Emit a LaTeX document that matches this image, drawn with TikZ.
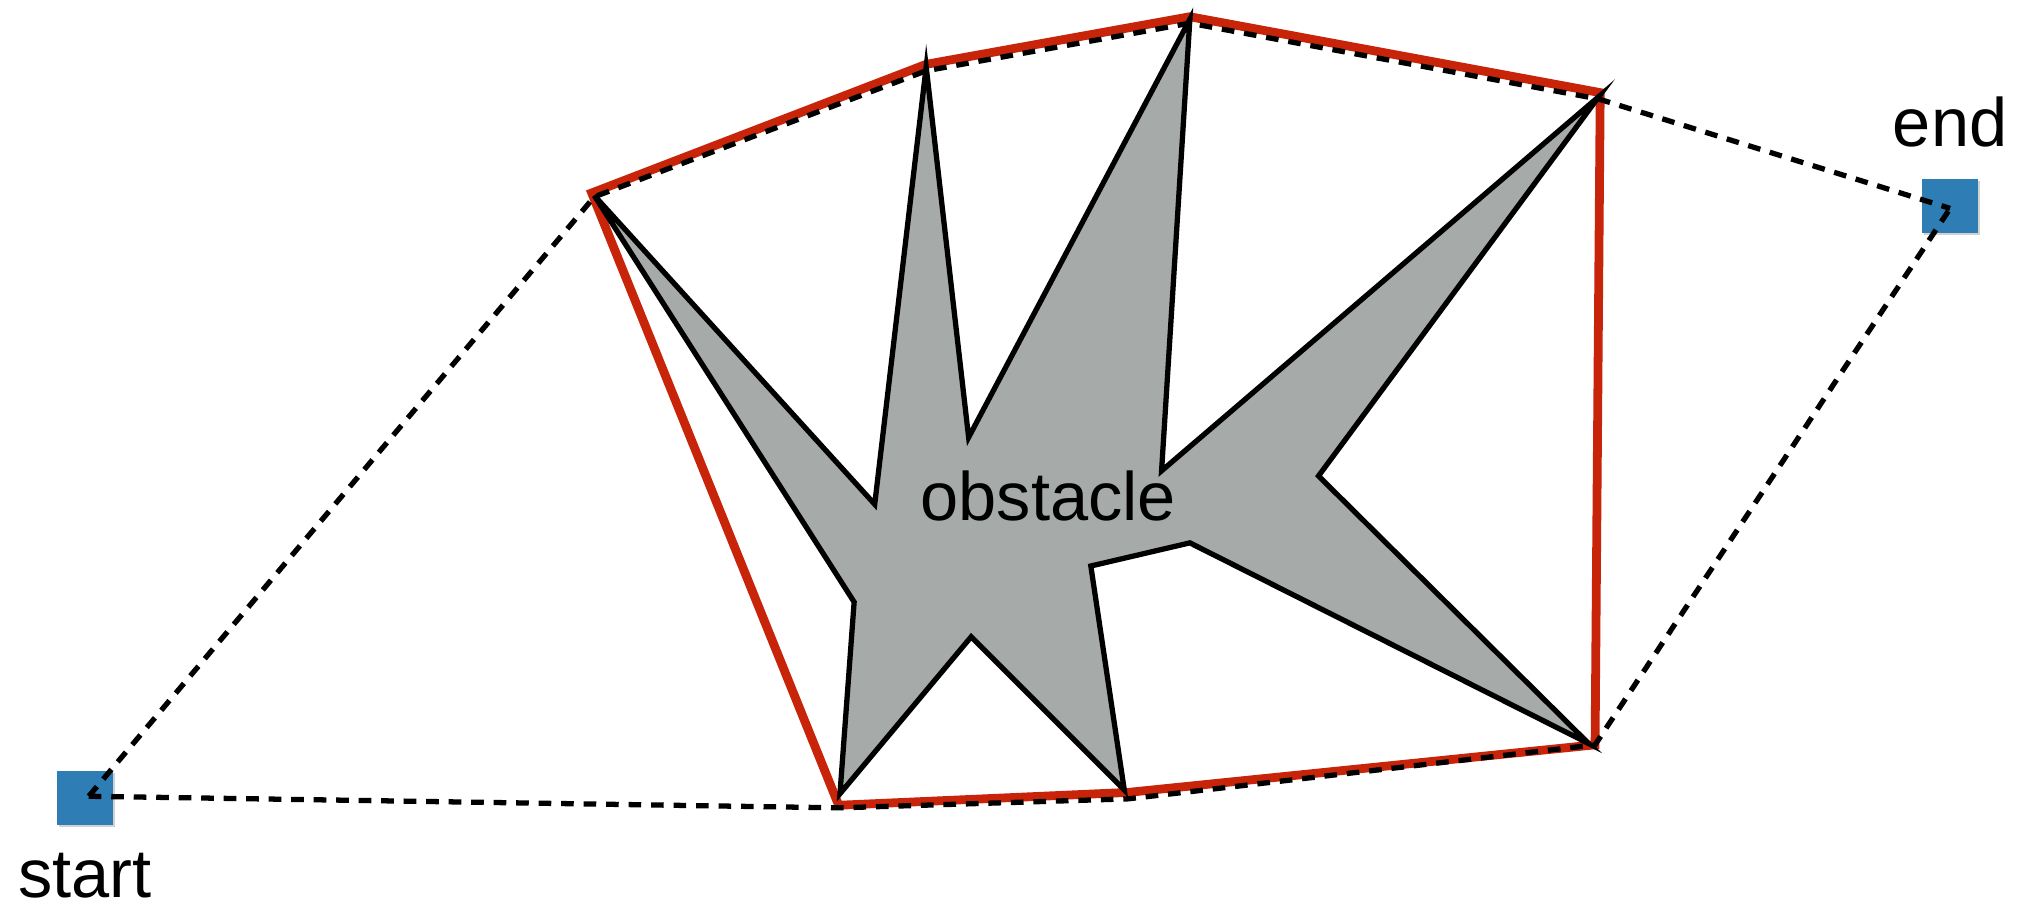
\documentclass[tikz,border=0pt]{standalone}
\usepackage{fontspec}
\setmainfont{Liberation Sans}
\definecolor{obsgray}{RGB}{166,170,168}
\definecolor{hullred}{RGB}{200,36,10}
\definecolor{sqblue}{RGB}{46,125,181}
\tikzset{
  obstacle/.style={draw=black, fill=obsgray, line width=1.5pt, line join=miter},
  hull/.style={draw=hullred, line width=2.5pt, line join=miter},
  dashpath/.style={draw=black, line width=1.5pt, dash pattern=on 3.6pt off 2.8pt},
  endpoint/.style={fill=sqblue, minimum width=0.56cm, minimum height=0.54cm, inner sep=0pt, outer sep=0pt},
  sqshadow/.style={fill=black!18, minimum width=0.56cm, minimum height=0.54cm, inner sep=0pt, outer sep=0pt},
  lbl/.style={font=\fontsize{19.5}{22}\selectfont, inner sep=0pt}
}
\begin{document}
\begin{tikzpicture}[x=0.012864cm, y=-0.012864cm]
\useasboundingbox (0,0) rectangle (1568,710);
% obstacle vertices
\coordinate (p1) at (462,152);
\coordinate (p2) at (680,392);
\coordinate (p3) at (720,52);
\coordinate (p4) at (753,340);
\coordinate (p5) at (925,15);
\coordinate (p6) at (903,366);
\coordinate (p7) at (1243,75);
\coordinate (p8) at (1025,370);
\coordinate (p9) at (1235,578);
\coordinate (p10) at (925,422);
\coordinate (p11) at (848,440);
\coordinate (p12) at (874,614);
\coordinate (p13) at (755,495);
\coordinate (p14) at (653,617);
\coordinate (p15) at (664,468);
% hull vertices
\coordinate (r1) at (460,150);
\coordinate (r2) at (720,50);
\coordinate (r3) at (925,13);
\coordinate (r4) at (1244,72);
\coordinate (r5) at (1240,579);
\coordinate (r6) at (877,616);
\coordinate (r7) at (652,626);
% dashed path vertices
\coordinate (d1) at (462,153);
\coordinate (d2) at (720,55);
\coordinate (d3) at (925,18);
\coordinate (d4) at (1243,77);
\coordinate (d5) at (653,628);
\coordinate (d6) at (877,621);
\coordinate (d7) at (1240,579);
\coordinate (sc) at (69,619);
\coordinate (ec) at (1516,162);

% squares
\node[sqshadow] (startsh) at (67.5,622) {};
\node[sqshadow] (endsh) at (1517.5,162) {};
\node[endpoint] (start) at (66,620) {};
\node[endpoint] (end) at (1516,160) {};
\node[lbl, anchor=base] (startlbl) at (66,698) {start};
\node[lbl, anchor=base] (endlbl) at (1516,114) {end};

% red hull
\draw[hull] (r1) -- (r2) -- (r3) -- (r4) -- (r5) -- (r6) -- (r7) -- cycle;

% obstacle
\draw[obstacle] (p1) -- (p2) -- (p3) -- (p4) -- (p5) -- (p6) -- (p7) -- (p8) -- (p9) -- (p10) -- (p11) -- (p12) -- (p13) -- (p14) -- (p15) -- cycle;
\node[lbl, anchor=base] (obslbl) at (815,405) {obstacle};

% dashed paths
\draw[dashpath] (sc) -- (d1) -- (d2) -- (d3) -- (d4) -- (ec);
\draw[dashpath] (sc) -- (d5) -- (d6) -- (d7) -- (ec);
\end{tikzpicture}
\end{document}
